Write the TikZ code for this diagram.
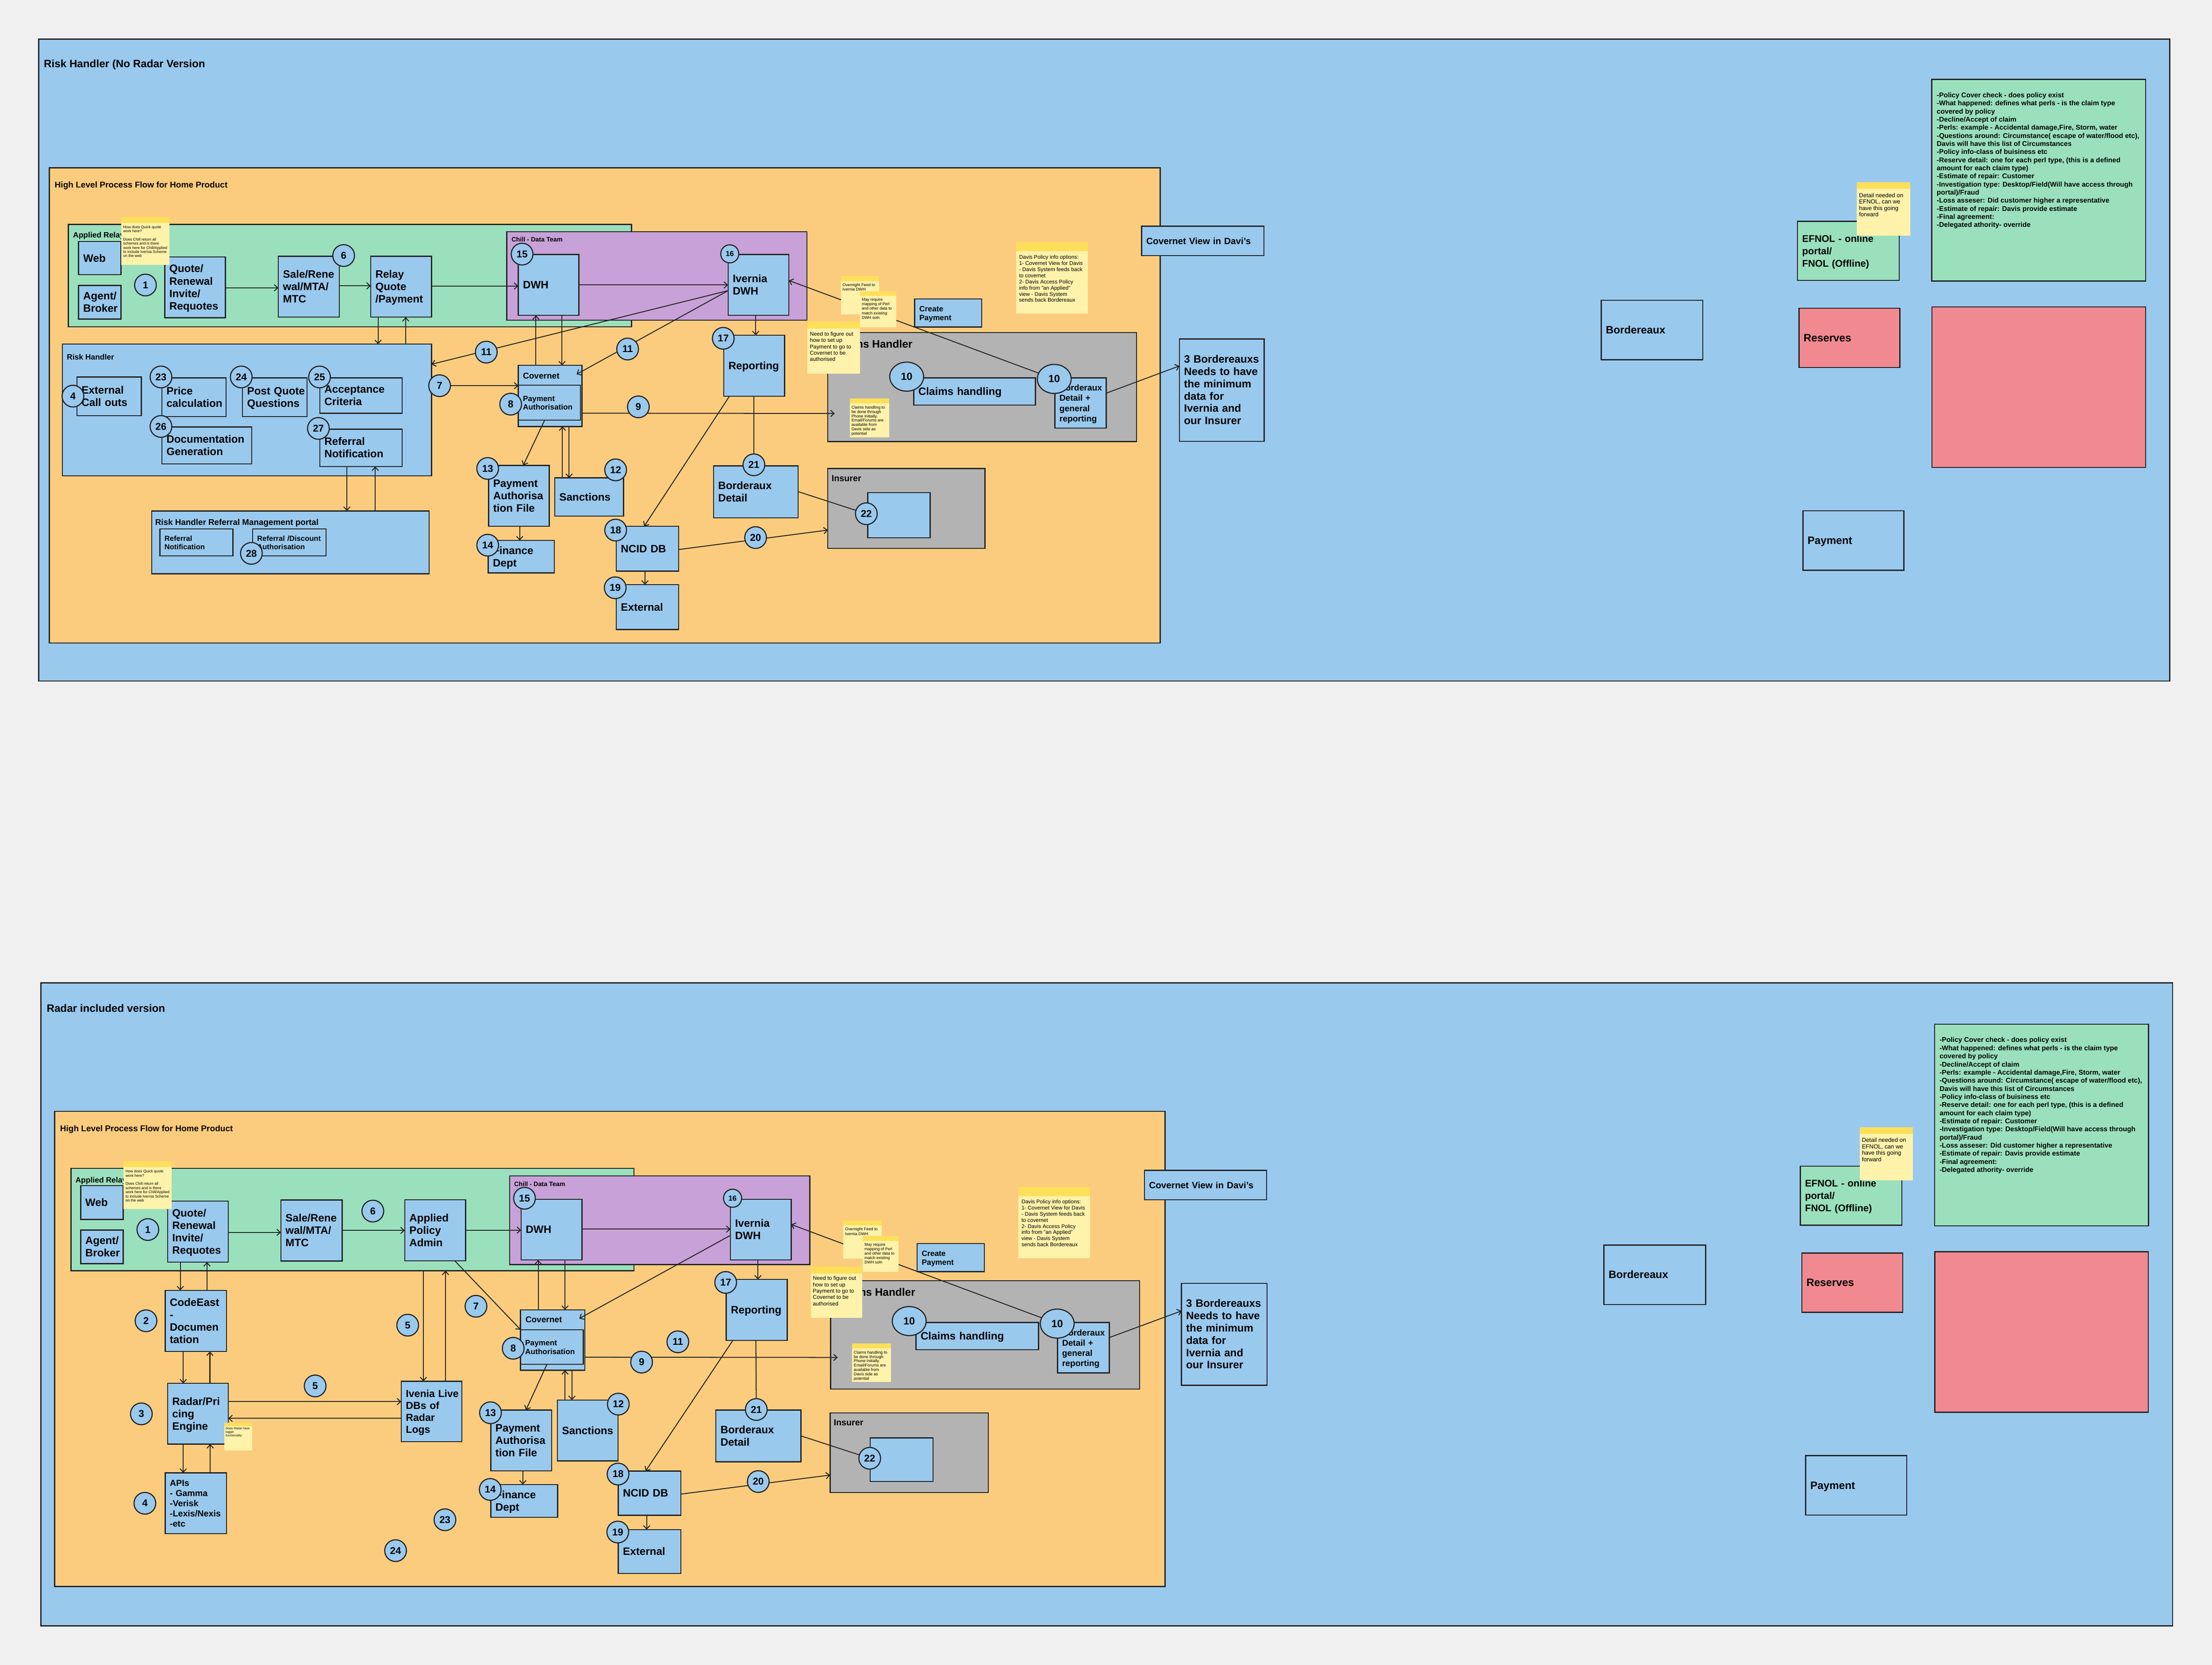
\documentclass[tikz,border=0pt]{standalone}
\usepackage{fontspec}
\setmainfont{Liberation Sans}
\usetikzlibrary{arrows.meta,shapes.geometric}
\definecolor{bgc}{RGB}{240,240,240}
\definecolor{bluec}{RGB}{154,201,238}
\definecolor{orangec}{RGB}{252,204,126}
\definecolor{greenc}{RGB}{154,224,188}
\definecolor{purplec}{RGB}{200,161,216}
\definecolor{greyc}{RGB}{179,179,179}
\definecolor{redc}{RGB}{241,137,145}
\definecolor{stkb}{RGB}{255,242,170}
\definecolor{stkh}{RGB}{253,223,90}
\definecolor{strokec}{RGB}{34,34,34}
\pgfdeclarelayer{back}
\pgfdeclarelayer{lines}
\pgfdeclarelayer{front}
\pgfsetlayers{back,lines,main,front}
\hyphenpenalty=10000
\exhyphenpenalty=10000
\newcommand\fsz[2]{\fontsize{#1}{#2}\selectfont}
\newcommand\mybox[7][]{%
 \pgfmathsetmacro\mbw{(#5-#3)*0.5}%
 \pgfmathsetmacro\mbh{(#6-#4)*0.5}%
 \pgfmathsetmacro\mbt{max((#5-#3)*0.5-3.3,1)}%
 \node[box,minimum width=\mbw mm,minimum height=\mbh mm,text width=\mbt mm,anchor=north west,#1] (#2) at (#3,#4) {\raisebox{-1.2pt}[\height][\depth]{\begin{tabular}{@{}l@{}}#7\end{tabular}}};}
\newcommand\mycont[6][]{%
 \pgfmathsetmacro\mbw{(#5-#3)*0.5}%
 \pgfmathsetmacro\mbh{(#6-#4)*0.5}%
 \node[cont,minimum width=\mbw mm,minimum height=\mbh mm,anchor=north west,#1] (#2) at (#3,#4) {};}
\newcommand\mysticky[9]{%
 \fill[fill=stkb] (#2,#3) rectangle (#4,#5);
 \fill[fill=stkh] (#2,#3) rectangle (#4,#6);
 \node[stxt,font=#8] (#1) at (#7) {#9};}
\begin{document}
\begin{tikzpicture}[x=0.5mm,y=-0.5mm,
 box/.style={draw=strokec,line width=1.1pt,fill=bluec,inner xsep=1.65mm,inner ysep=0pt,outer sep=0pt,align=left,text=black,font=\bfseries\fsz{10.8}{12.5}},
 cont/.style={draw=strokec,line width=1.1pt,fill=bluec,inner sep=0pt,outer sep=0pt},
 lbl/.style={anchor=base west,inner sep=0pt,outer sep=0pt,text=black,font=\bfseries\fsz{8.5}{10}},
 num/.style={circle,draw=strokec,line width=1.1pt,fill=bluec,minimum size=7.7mm,inner sep=0pt,outer sep=0pt,text=black,font=\bfseries\fsz{10}{12}},
 smallnum/.style={num,minimum size=6.4mm,font=\bfseries\fsz{7.4}{9}},
 bignum/.style={ellipse,draw=strokec,line width=1.1pt,fill=bluec,minimum width=12mm,minimum height=10.3mm,inner sep=0pt,outer sep=0pt,text=black,font=\bfseries\fsz{10.5}{12}},
 arr/.style={draw=strokec,line width=0.9pt,-{Straight Barb[length=3.5pt,width=6.5pt]}},
 ln/.style={draw=strokec,line width=0.9pt},
 stxt/.style={anchor=north west,inner sep=0pt,outer sep=0pt,align=left,text=black}]
\useasboundingbox (0,0) rectangle (1568,1180.7);
\begin{pgfonlayer}{back}
\fill[bgc] (0,0) rectangle (1568,1180.7);
% ================= TOP =================
\mycont{outerT}{27.4}{27.7}{1538}{483}
\node[lbl,font=\bfseries\fsz{10.8}{13}] (ttlT) at (31.1,47.7) {Risk Handler (No Radar Version};
\mycont[fill=orangec]{orT}{35}{119}{822.4}{456}
\node[lbl] (hlT) at (38.8,133) {High Level Process Flow for Home Product};
\mycont[fill=greenc]{grT}{48.4}{159.1}{447.7}{231.7}
\node[lbl,font=\bfseries\fsz{7.8}{9}] (arlT) at (51.8,168.6) {Applied Relay};
\mycont[fill=purplec]{puT}{359.2}{164.3}{572}{227.1}
\node[lbl,font=\bfseries\fsz{6.4}{8}] (chillT) at (362.6,171.4) {Chill - Data Team};
\mycont{rhT}{44.2}{244}{305.9}{337.5}
\node[lbl,font=\bfseries\fsz{7.8}{9}] (rhlT) at (47.4,255) {Risk Handler};
\mycont[fill=greyc]{chT}{586.8}{235.9}{805.6}{313.1}
\node[lbl,font=\bfseries\fsz{10.9}{13}] (chlabT) at (591,246.5) {Claims Handler};
\mycont[fill=greyc]{insT}{586.8}{332.2}{698.2}{388.9}
\node[lbl,font=\bfseries\fsz{8.8}{10}] (inslT) at (589.5,341.4) {Insurer};
\mycont{portT}{107.5}{362.3}{304.2}{406.9}
\node[lbl,font=\bfseries\fsz{8.4}{10}] (portlT) at (110,372.3) {Risk Handler Referral Management portal};
\mybox{webT}{55.7}{171.3}{85.8}{194.8}{Web}
\mybox{agT}{55.7}{202.4}{85.8}{226.3}{Agent/\\Broker}
\mybox{quoteT}{116.8}{182.2}{159.8}{225.3}{Quote/\\Renewal\\Invite/\\Requotes}
\mybox{saleT}{197.3}{181.7}{240.5}{224.9}{Sale/Rene\\wal/MTA/\\MTC}
\mybox{relayT}{262.8}{181.7}{305.9}{224.9}{Relay\\Quote\\/Payment}
\mybox{dwhT}{367.4}{180.4}{410.4}{223.6}{DWH}
\mybox{ivT}{516.1}{180.4}{559.2}{223.6}{Ivernia\\DWH}
\mybox{extcT}{54.5}{267.3}{100.2}{294.8}{External\\Call outs}
\mybox{priceT}{114.7}{267.9}{160.2}{295.4}{Price\\calculation}
\mybox{postT}{171.9}{267.9}{217.7}{295.4}{Post Quote\\Questions}
\mybox{accT}{226.7}{267.9}{285.1}{293}{Acceptance\\Criteria}
\mybox{docT}{114.7}{302.8}{178.5}{328.9}{Documentation\\Generation}
\mybox{refnT}{226.7}{304.3}{285.1}{330.8}{Referral\\Notification}
\mybox{covT}{367.4}{259.1}{412.6}{302.4}{}
\node[lbl,font=\bfseries\fsz{8.5}{10}] (covlT) at (370.7,268.6) {Covernet};
\mybox[font=\bfseries\fsz{7.7}{8.8}]{paT}{367.4}{273.1}{411.5}{297.9}{Payment\\Authorisation}
\mybox{fileT}{346.3}{330}{389.3}{373.1}{Payment\\Authorisa\\tion File}
\mybox{sanT}{393.2}{338.9}{442}{366}{Sanctions}
\mybox{finT}{346.1}{383.2}{393}{406.3}{Finance\\Dept}
\mybox{repT}{513.1}{237.7}{556.1}{280.9}{Reporting}
\mybox{bdT}{505.8}{330.3}{565.7}{367.3}{Borderaux\\Detail}
\mybox{ncidT}{436.8}{373.2}{481}{405}{NCID DB}
\mybox{extT}{436.8}{414.6}{481}{446.4}{External}
\mybox{insinT}{615.1}{349.4}{659.3}{381.3}{}
\mybox[font=\bfseries\fsz{7.4}{8.8}]{refn2T}{113.3}{375}{165.1}{394.2}{Referral\\Notification}
\mybox[font=\bfseries\fsz{7.4}{8.8}]{refdT}{179}{375}{231.2}{394.2}{Referral /Discount\\Authorisation}
\mybox{clhT}{647.7}{267.9}{734}{287.3}{Claims handling}
\mybox[font=\bfseries\fsz{8.6}{10.3}]{bgT}{747.7}{267.9}{784.2}{303.6}{Borderaux\\Detail +\\general\\reporting}
\mybox[font=\bfseries\fsz{10.8}{12.4}]{b3T}{836}{240.3}{896.1}{312.9}{3 Bordereauxs\\Needs to have\\the minimum\\data for\\Ivernia and\\our Insurer}
\mybox[font=\bfseries\fsz{7.75}{9.2}]{cpT}{648.4}{212}{695.8}{231.9}{Create\\Payment}
\mybox[font=\bfseries\fsz{9.25}{11}]{cvT}{809.3}{160.4}{896}{181.3}{Covernet View in Davi's}
\mybox{bordxT}{1135}{212.9}{1207}{255.1}{Bordereaux}
\mybox[fill=greenc,font=\bfseries\fsz{9.8}{12.5}]{efT}{1274.2}{156.9}{1346.2}{198.8}{EFNOL - online\\portal/\\FNOL (Offline)}
\mybox[fill=redc]{resT}{1275.2}{218.6}{1346.7}{260.6}{Reserves}
\mybox[fill=redc]{redT}{1369.5}{217.7}{1520.9}{331.5}{}
\mybox{payT}{1278}{362.2}{1349.6}{404.4}{Payment}
\mycont[fill=greenc]{txtT}{1369.3}{56.3}{1521}{199.3}
\node[stxt,font=\bfseries\fsz{6.95}{8.18}] (txtlT) at (1372.9,65.6) {-Policy Cover check - does policy exist\\-What happened: defines what perls - is the claim type\\covered by policy\\-Decline/Accept of claim\\-Perls: example - Accidental damage,Fire, Storm, water\\-Questions around: Circumstance( escape of water/flood etc),\\Davis will have this list of Circumstances\\-Policy info-class of buisiness etc\\-Reserve detail: one for each perl type, (this is a defined\\amount for each claim type)\\-Estimate of repair: Customer\\-Investigation type: Desktop/Field(Will have access through\\portal)/Fraud\\-Loss asseser: Did customer higher a representative\\-Estimate of repair: Davis provide estimate\\-Final agreement:\\-Delegated athority- override};
% ================= BOTTOM =================
\mycont{outerB}{29}{697}{1540}{1153}
\node[lbl,font=\bfseries\fsz{10.8}{13}] (ttlB) at (33.1,717.7) {Radar included version};
\mycont[fill=orangec]{orB}{38.8}{788}{825.9}{1125}
\node[lbl] (hlB) at (42.6,802.3) {High Level Process Flow for Home Product};
\mycont[fill=greenc]{grB}{50.3}{828.6}{449.4}{901.1}
\node[lbl,font=\bfseries\fsz{7.8}{9}] (arlB) at (53.5,838.7) {Applied Relay};
\mycont[fill=purplec]{puB}{361.2}{833.9}{574.1}{896.7}
\node[lbl,font=\bfseries\fsz{6.4}{8}] (chillB) at (364.5,841.1) {Chill - Data Team};
\mycont[fill=greyc]{chB}{588.8}{908.2}{807.8}{985}
\node[lbl,font=\bfseries\fsz{10.9}{13}] (chlabB) at (593,919) {Claims Handler};
\mycont[fill=greyc]{insB}{588.4}{1002}{700.6}{1058.4}
\node[lbl,font=\bfseries\fsz{8.8}{10}] (inslB) at (591,1011) {Insurer};
\mybox{webB}{57.2}{840.8}{87.4}{864.8}{Web}
\mybox{agB}{57.2}{872.3}{87.4}{896.1}{Agent/\\Broker}
\mybox{quoteB}{118.8}{851.7}{161.8}{895}{Quote/\\Renewal\\Invite/\\Requotes}
\mybox{saleB}{199.1}{850.9}{242.5}{894.2}{Sale/Rene\\wal/MTA/\\MTC}
\mybox{admB}{286.9}{850.8}{330.1}{894}{Applied\\Policy\\Admin}
\mybox{dwhB}{369.4}{850.4}{412.6}{893.5}{DWH}
\mybox{ivB}{517.8}{850.4}{560.8}{893.5}{Ivernia\\DWH}
\mybox{ceB}{117.1}{915}{160.5}{958.4}{CodeEast\\-\\Documen\\tation}
\mybox{radB}{118.8}{981}{161.8}{1024}{Radar/Pri\\cing\\Engine}
\mybox[font=\bfseries\fsz{8.8}{10.2}]{apiB}{117.1}{1044.4}{160.5}{1087.5}{APIs\\- Gamma\\-Verisk\\-Lexis/Nexis\\-etc}
\mybox[font=\bfseries\fsz{10.3}{12.1}]{ivlB}{284.4}{979.5}{327.4}{1022.3}{Ivenia Live\\DBs of\\Radar\\Logs}
\mybox{covB}{369}{928.8}{414.6}{971.7}{}
\node[lbl,font=\bfseries\fsz{8.5}{10}] (covlB) at (372.5,937.9) {Covernet};
\mybox[font=\bfseries\fsz{7.7}{8.8}]{paB}{369}{942.9}{413.5}{967.5}{Payment\\Authorisation}
\mybox{fileB}{347.9}{999.9}{391.1}{1043}{Payment\\Authorisa\\tion File}
\mybox{sanB}{395.1}{992.8}{438.1}{1036}{Sanctions}
\mybox{finB}{347.9}{1052.7}{395.3}{1076}{Finance\\Dept}
\mybox{repB}{514.8}{907.3}{558}{950.5}{Reporting}
\mybox{bdB}{507.4}{999.9}{567.7}{1036.6}{Borderaux\\Detail}
\mybox{ncidB}{438.3}{1043.2}{482.7}{1074.6}{NCID DB}
\mybox{extB}{438.3}{1084.7}{482.7}{1115.8}{External}
\mybox{insinB}{616.9}{1019.6}{661.4}{1050.6}{}
\mybox{clhB}{649.3}{937.8}{736.1}{957.1}{Claims handling}
\mybox[font=\bfseries\fsz{8.6}{10.3}]{bgB}{749.6}{937.8}{786.3}{973.5}{Borderaux\\Detail +\\general\\reporting}
\mybox[font=\bfseries\fsz{10.8}{12.4}]{b3B}{837.5}{910}{898.2}{982.3}{3 Bordereauxs\\Needs to have\\the minimum\\data for\\Ivernia and\\our Insurer}
\mybox[font=\bfseries\fsz{7.75}{9.2}]{cpB}{650.1}{881.8}{697.7}{901.7}{Create\\Payment}
\mybox[font=\bfseries\fsz{9.25}{11}]{cvB}{811.2}{829.9}{897.8}{850.8}{Covernet View in Davi's}
\mybox{bordxB}{1137}{882.9}{1209}{925.1}{Bordereaux}
\mybox[fill=greenc,font=\bfseries\fsz{9.8}{12.5}]{efB}{1276.2}{826.9}{1348.2}{868.8}{EFNOL - online\\portal/\\FNOL (Offline)}
\mybox[fill=redc]{resB}{1277.2}{888.6}{1348.7}{930.6}{Reserves}
\mybox[fill=redc]{redB}{1371.5}{887.7}{1522.9}{1001.5}{}
\mybox{payB}{1280}{1032.2}{1351.6}{1074.4}{Payment}
\mycont[fill=greenc]{txtB}{1371.3}{726.3}{1523}{869.3}
\node[stxt,font=\bfseries\fsz{6.95}{8.18}] (txtlB) at (1374.9,735.6) {-Policy Cover check - does policy exist\\-What happened: defines what perls - is the claim type\\covered by policy\\-Decline/Accept of claim\\-Perls: example - Accidental damage,Fire, Storm, water\\-Questions around: Circumstance( escape of water/flood etc),\\Davis will have this list of Circumstances\\-Policy info-class of buisiness etc\\-Reserve detail: one for each perl type, (this is a defined\\amount for each claim type)\\-Estimate of repair: Customer\\-Investigation type: Desktop/Field(Will have access through\\portal)/Fraud\\-Loss asseser: Did customer higher a representative\\-Estimate of repair: Davis provide estimate\\-Final agreement:\\-Delegated athority- override};
\end{pgfonlayer}
% ================= CIRCLES (main layer) =================
\node[num] (c1T) at (103.1,202.1) {1};
\node[num] (c6T) at (243.6,181.2) {6};
\node[num] (c15T) at (370.1,180.2) {15};
\node[smallnum] (c16T) at (517.3,180) {16};
\node[num] (c4T) at (51.7,280.9) {4};
\node[num] (c23T) at (114.1,267.3) {23};
\node[num] (c24T) at (171,267.3) {24};
\node[num] (c25T) at (226.5,267.3) {25};
\node[num] (c26T) at (114.1,302.4) {26};
\node[num] (c27T) at (225.7,303.8) {27};
\node[num] (c7T) at (311.6,273.5) {7};
\node[num] (c11aT) at (344.7,249.7) {11};
\node[num] (c11bT) at (444.9,247.5) {11};
\node[num] (c8T) at (362,286.6) {8};
\node[num] (c9T) at (452.5,288.5) {9};
\node[num] (c13T) at (345.7,332.2) {13};
\node[num] (c12T) at (436.4,333.2) {12};
\node[num] (c14T) at (345.7,386.6) {14};
\node[num] (c17T) at (512.7,239.9) {17};
\node[num] (c21T) at (534.4,329.6) {21};
\node[num] (c18T) at (436.4,375.9) {18};
\node[num] (c19T) at (436.1,416.8) {19};
\node[num] (c20T) at (535.6,381.2) {20};
\node[num] (c22T) at (614.1,364.3) {22};
\node[num] (c28T) at (178.2,392.4) {28};
\node[bignum] (c10aT) at (642.7,267.1) {10};
\node[bignum] (c10bT) at (747.3,268.7) {10};
\node[num] (c1B) at (104.8,871.9) {1};
\node[num] (c6B) at (264.3,858.8) {6};
\node[num] (c15B) at (371.8,849.7) {15};
\node[smallnum] (c16B) at (519.3,849.7) {16};
\node[num] (c2B) at (103.5,936.6) {2};
\node[num] (c3B) at (100.2,1002.6) {3};
\node[num] (c4B) at (102.7,1066) {4};
\node[num] (c5aB) at (223.4,982.8) {5};
\node[num] (c5bB) at (289,939.7) {5};
\node[num] (c7B) at (337.4,926.3) {7};
\node[num] (c8B) at (363.8,956.1) {8};
\node[num] (c11B) at (480.5,951.5) {11};
\node[num] (c9B) at (454.8,965.9) {9};
\node[num] (c13B) at (347.7,1001.8) {13};
\node[num] (c12B) at (438.3,995.7) {12};
\node[num] (c14B) at (347.5,1056.2) {14};
\node[num] (c17B) at (514.4,909.4) {17};
\node[num] (c21B) at (536.1,999.5) {21};
\node[num] (c18B) at (438.1,1045.3) {18};
\node[num] (c19B) at (437.9,1086.4) {19};
\node[num] (c20B) at (537.5,1050.6) {20};
\node[num] (c22B) at (616.5,1034.1) {22};
\node[num] (c23B) at (315.4,1077.7) {23};
\node[num] (c24B) at (280.4,1099.6) {24};
\node[bignum] (c10aB) at (644.5,936.8) {10};
\node[bignum] (c10bB) at (749.4,938.6) {10};
% ================= CONNECTORS =================
\begin{pgfonlayer}{lines}
% top
\draw[arr] (quoteT.east |- 0,204.1) -- (saleT.west |- 0,204.1);
\draw[arr] (saleT.east |- 0,202.7) -- (relayT.west |- 0,202.7);
\draw[arr] (relayT.east |- 0,202.8) -- (dwhT.west |- 0,202.8);
\draw[arr] (dwhT.east |- 0,202.1) -- (ivT.west |- 0,202.1);
\draw[arr] (relayT.south -| 268,0) -- (rhT.north -| 268,0);
\draw[arr] (rhT.north -| 287.6,0) -- (relayT.south -| 287.6,0);
\draw[arr] (ivT.west |- 0,206.1) -- (rhT.east |- 0,258.3);
\coordinate (covinT) at (408.7,265.4);
\draw[arr] (ivT.west |- 0,206.1) -- (covinT);
\draw[arr] (c7T) -- (covT.west |- c7T);
\draw[arr] (covT.north -| 379.9,0) -- (dwhT.south -| 379.9,0);
\draw[arr] (dwhT.south -| 398.4,0) -- (covT.north -| 398.4,0);
\draw[arr] (paT.south -| 386.1,0) -- (fileT.north -| 370.9,0);
\draw[arr] (sanT.north -| 398.7,0) -- (covT.south -| 398.7,0);
\draw[arr] (covT.south -| 403.4,0) -- (sanT.north -| 403.4,0);
\draw[arr] (fileT.south -| 368.4,0) -- (finT.north -| 368.4,0);
\coordinate (a9T) at (591.7,293.2);
\draw[arr] (covT.east |- 0,293) -- (a9T);
\draw[arr] (ivT.south -| 535.7,0) -- (repT.north -| 535.7,0);
\draw[arr] (repT.south -| 517.1,0) -- (ncidT.north -| 456.6,0);
\draw[ln] (repT.south -| 534.4,0) -- (c21T);
\draw[ln] (bdT.east |- 0,348.6) -- (c22T);
\draw[arr] (ncidT.east |- 0,389.7) -- (insT.west |- 0,375.9);
\draw[arr] (ncidT.south -| 457.2,0) -- (extT.north -| 457.2,0);
\draw[arr] (refnT.south -| 245.9,0) -- (portT.north -| 245.9,0);
\draw[arr] (portT.north -| 266,0) -- (refnT.south -| 266,0);
\draw[arr] (c10bT) -- (ivT.east |- 0,198.9);
\draw[arr] (bgT.east |- 0,278.8) -- (b3T.west |- 0,259.5);
% bottom
\draw[arr] (quoteB.east |- 0,873.9) -- (saleB.west |- 0,873.9);
\draw[arr] (saleB.east |- 0,872.5) -- (admB.west |- 0,872.5);
\draw[arr] (admB.east |- 0,872.3) -- (dwhB.west |- 0,872.3);
\draw[arr] (dwhB.east |- 0,871.6) -- (ivB.west |- 0,871.6);
\draw[arr] (quoteB.south -| 127.8,0) -- (ceB.north -| 127.8,0);
\draw[arr] (ceB.north -| 146.7,0) -- (quoteB.south -| 146.7,0);
\draw[arr] (ceB.south -| 129.9,0) -- (radB.north -| 129.9,0);
\draw[arr] (radB.north -| 148.8,0) -- (ceB.south -| 148.8,0);
\draw[arr] (radB.south -| 129.9,0) -- (apiB.north -| 129.9,0);
\draw[arr] (apiB.north -| 149,0) -- (radB.south -| 149,0);
\draw[arr] (radB.east |- 0,993.9) -- (ivlB.west |- 0,993.9);
\draw[arr] (ivlB.west |- 0,1005.8) -- (radB.east |- 0,1005.8);
\draw[arr] (grB.south -| 300.1,0) -- (ivlB.north -| 300.1,0);
\draw[arr] (ivlB.north -| 315.8,0) -- (grB.south -| 315.8,0);
\draw[arr] (admB.south -| 322.3,0) -- (covB.west |- 0,942.9);
\coordinate (covinB) at (410.6,935);
\draw[arr] (ivB.west |- 0,876) -- (covinB);
\draw[arr] (covB.north -| 381.5,0) -- (dwhB.south -| 381.5,0);
\draw[arr] (dwhB.south -| 400.5,0) -- (covB.north -| 400.5,0);
\draw[arr] (paB.south -| 387.7,0) -- (fileB.north -| 372.8,0);
\draw[arr] (sanB.north -| 400.5,0) -- (covB.south -| 400.5,0);
\draw[arr] (covB.south -| 405.4,0) -- (sanB.north -| 405.4,0);
\draw[arr] (fileB.south -| 370.6,0) -- (finB.north -| 370.6,0);
\coordinate (a9B) at (593.8,962.6);
\draw[arr] (covB.east |- 0,962.4) -- (a9B);
\draw[arr] (ivB.south -| 537.3,0) -- (repB.north -| 537.3,0);
\draw[arr] (repB.south -| 519.5,0) -- (ncidB.north -| 457.6,0);
\draw[ln] (repB.south -| 535.8,0) -- (c21B);
\draw[ln] (bdB.east |- 0,1018.2) -- (c22B);
\draw[arr] (ncidB.east |- 0,1059.5) -- (insB.west |- 0,1046);
\draw[arr] (ncidB.south -| 458.4,0) -- (extB.north -| 458.4,0);
\draw[arr] (c10bB) -- (ivB.east |- 0,868.3);
\draw[arr] (bgB.east |- 0,948.5) -- (b3B.west |- 0,929.6);
\end{pgfonlayer}
% ================= STICKY NOTES =================
\begin{pgfonlayer}{front}
\mysticky{sqT}{86}{154}{120}{187.8}{158}{87.4,159.9}{\fsz{3.8}{4.2}}{How does Quick quote\\work here?\\[4.2pt]Does Chill return all\\schemes and is there\\work here for Chill/Applied\\to include Ivernia  Scheme\\on the web}
\mysticky{snT}{596}{195.8}{623.2}{222.9}{199.4}{597.3,201}{\fsz{4.1}{4.6}}{Overnight Feed to\\Ivernia DWH}
\mysticky{smT}{609.7}{206.6}{635.3}{232.1}{209.9}{610.9,211.5}{\fsz{4}{4.47}}{May require\\mapping of Perl\\and other data to\\match existing\\DWH soln}
\mysticky{sfT}{572.4}{228.1}{609.5}{264.9}{233}{574.1,235.4}{\fsz{5.5}{6.4}}{Need to figure out\\how to set up\\Payment to go to\\Covernet to be\\authorised}
\mysticky{scT}{602.5}{282.6}{630.3}{310.2}{286}{603.6,287.8}{\fsz{4.1}{4.4}}{Claims handling to\\be done through\\Phone Initially.\\Email/Forums are\\available from\\Davis side as\\potential}
\mysticky{sdT}{720.2}{171.8}{771.1}{222.4}{178.1}{722.4,180.9}{\fsz{5.4}{6.2}}{Davis Policy info options:\\1- Covernet View for Davis\\- Davis System feeds back\\to covernet\\2- Davis Access Policy\\info from "an Applied"\\view - Davis System\\sends back Bordereaux}
\mysticky{seT}{1316.3}{129.3}{1354}{167}{134}{1317.8,136.9}{\fsz{5.9}{6.5}}{Detail needed on\\EFNOL, can we\\have this going\\forward}
\mysticky{sqB}{87.6}{823.5}{121.7}{857.5}{827.7}{89,829.6}{\fsz{3.8}{4.2}}{How does Quick quote\\work here?\\[4.2pt]Does Chill return all\\schemes and is there\\work here for Chill/Applied\\to include Ivernia  Scheme\\on the web}
\mysticky{srB}{159.1}{1008.9}{178.8}{1028.5}{1011.2}{160,1012.1}{\fsz{3.1}{3.5}}{Does Radar have\\loggin\\functionality}
\mysticky{snB}{597.8}{865.4}{624.9}{892.5}{869}{599.1,870.6}{\fsz{4.1}{4.6}}{Overnight Feed to\\Ivernia DWH}
\mysticky{smB}{611.6}{876.6}{636.9}{902}{879.9}{612.8,881.5}{\fsz{4}{4.47}}{May require\\mapping of Perl\\and other data to\\match existing\\DWH soln}
\mysticky{sfB}{574.7}{898.1}{611.3}{934.6}{903}{576.2,905}{\fsz{5.5}{6.4}}{Need to figure out\\how to set up\\Payment to go to\\Covernet to be\\authorised}
\mysticky{scB}{604.1}{952.7}{631.6}{980.1}{956.1}{605.2,957.9}{\fsz{4.1}{4.4}}{Claims handling to\\be done through\\Phone Initially.\\Email/Forums are\\available from\\Davis side as\\potential}
\mysticky{sdB}{722}{841.6}{772.7}{892.2}{848.3}{724.1,850.7}{\fsz{5.4}{6.2}}{Davis Policy info options:\\1- Covernet View for Davis\\- Davis System feeds back\\to covernet\\2- Davis Access Policy\\info from "an Applied"\\view - Davis System\\sends back Bordereaux}
\mysticky{seB}{1318.3}{799.3}{1356}{837}{804}{1319.8,806.9}{\fsz{5.9}{6.5}}{Detail needed on\\EFNOL, can we\\have this going\\forward}
\end{pgfonlayer}
\end{tikzpicture}
\end{document}
